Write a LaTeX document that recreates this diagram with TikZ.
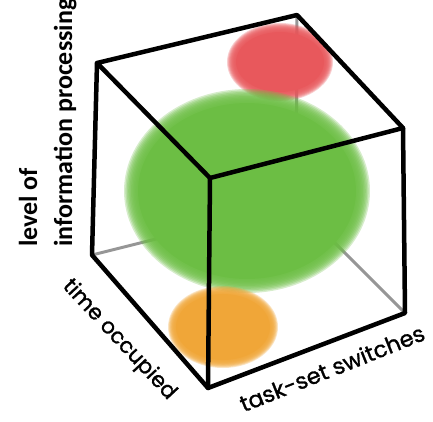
\documentclass[tikz,border=0pt]{standalone}
\usepackage{fontspec}
\setmainfont{Carlito}
\newfontfamily\comicfont[FakeBold=1.2]{Poppins}
\definecolor{blobgreen}{RGB}{108,190,68}
\definecolor{blobred}{RGB}{232,88,92}
\definecolor{bloborange}{RGB}{240,166,56}
\definecolor{hiddengray}{RGB}{150,150,150}
% soft-edged ellipse: colour, centre, x radius, y radius, blur width
\newcommand{\softblob}[5]{%
  \foreach \k in {0,...,9}{%
    \fill[#1, opacity=0.28] #2 ellipse [x radius={#3-\k*#5/10}, y radius={#4-\k*#5/10}];
  }%
  \fill[#1] #2 ellipse [x radius={#3-#5}, y radius={#4-#5}];
}
\tikzset{
  edge/.style={line width=4.5pt, line join=round, line cap=round, black},
  hidden/.style={line width=3pt, line cap=round, hiddengray},
  vlabel/.style={rotate=90, anchor=base west, font=\bfseries\fontsize{26}{30}\selectfont, inner sep=0pt},
  axlabel/.style={inner sep=0pt}
}
\begin{document}
\begin{tikzpicture}[x=1pt,y=-1pt]
\useasboundingbox (0,0) rectangle (433,421);
% vertices
\coordinate (TL) at (97,63);
\coordinate (TB) at (297,15);
\coordinate (TR) at (403,128);
\coordinate (FT) at (210,178);
\coordinate (FB) at (208,388);
\coordinate (LB) at (92,255);
\coordinate (RB) at (405,313);
\coordinate (BB) at (296,204);
% hidden edges
\draw[hidden] (LB) -- (BB);
\draw[hidden] (RB) -- (BB);
\draw[hidden] (TB) -- (BB);
% blobs
\softblob{blobred}{(280,62)}{53}{39}{9}
\softblob{blobgreen}{(247,191)}{123}{102}{14}
\softblob{bloborange}{(223,327)}{55}{41}{8}
% visible edges
\draw[edge] (TL) -- (TB) -- (TR) -- (FT) -- cycle;
\draw[edge] (TL) -- (LB) -- (FB) -- (RB) -- (TR);
\draw[edge] (FT) -- (FB);
% labels
\node[vlabel] (lvl) at (37,247) {level of};
\node[vlabel] (info) at (72,247) {information processing};
\node[axlabel, rotate=-47, font=\comicfont\fontsize{21.5}{24}\selectfont] (time) at (119,340) {time occupied};
\node[axlabel, rotate=21.8, font=\comicfont\fontsize{22.5}{26}\selectfont] (task) at (332,368) {task-set switches};
\end{tikzpicture}
\end{document}
